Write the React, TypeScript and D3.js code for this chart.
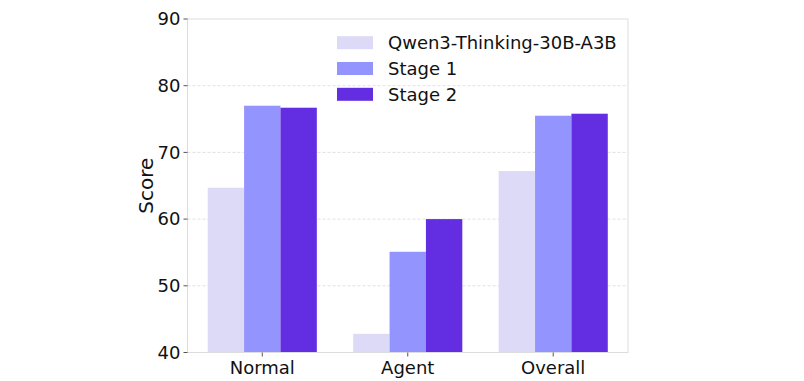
import React from "react";
import * as d3 from "d3";

const categories = ["Normal", "Agent", "Overall"];
const seriesNames = ["Qwen3-Thinking-30B-A3B", "Stage 1", "Stage 2"];
const qwenValues = [64.7, 42.8, 67.2];
const stage1Values = [77.0, 55.1, 75.5];
const stage2Values = [76.7, 60.0, 75.8];
const yTicks = [40, 50, 60, 70, 80, 90];
const colors = ["#dcdaf7", "#9494fe", "#632de2"];

const W = 804, H = 381;
const left = 187.5, right = 628, top = 19, bottom = 352.5;
const font = "DejaVu Sans, sans-serif";

export default function App() {
  const series = [qwenValues, stage1Values, stage2Values];
  const x = d3.scaleLinear().domain([-0.514, 2.514]).range([left, right]);
  const y = d3.scaleLinear().domain([40, 90]).range([bottom, top]);
  const bw = 0.25;
  return (
    <svg width={W} height={H} style={{ position: "absolute", left: 0, top: 0 }}>
      <rect x={0} y={0} width={W} height={H} fill="#fff" />
      {yTicks.slice(1, -1).map((t) => (
        <line key={t} x1={left} x2={right} y1={y(t)} y2={y(t)} stroke="#d9d9d9" strokeWidth={0.8} strokeDasharray="3,2" />
      ))}
      {series.map((vals, si) =>
        vals.map((v, ci) => {
          const cx = ci + (si - 1) * bw;
          const x0 = x(cx - bw / 2);
          const x1 = x(cx + bw / 2);
          return <rect key={`${si}-${ci}`} x={x0} y={y(v)} width={x1 - x0} height={y(40) - y(v)} fill={colors[si]} />;
        })
      )}
      <rect x={left} y={top} width={right - left} height={bottom - top} fill="none" stroke="#dddddd" strokeWidth={1} />
      {yTicks.map((t) => (
        <g key={t}>
          <line x1={left - 4} x2={left} y1={y(t)} y2={y(t)} stroke="#555" strokeWidth={1} />
          <text x={left - 7} y={y(t)} dy="0.35em" textAnchor="end" fontFamily={font} fontSize={18} fill="#111">{t}</text>
        </g>
      ))}
      {categories.map((c, i) => (
        <g key={c}>
          <line x1={x(i)} x2={x(i)} y1={bottom} y2={bottom + 4} stroke="#555" strokeWidth={1} />
          <text x={x(i)} y={bottom + 21} textAnchor="middle" fontFamily={font} fontSize={18} fill="#111">{c}</text>
        </g>
      ))}
      <text transform={`translate(152.5,${(top + bottom) / 2}) rotate(-90)`} textAnchor="middle" fontFamily={font} fontSize={20} fill="#111">Score</text>
      {seriesNames.map((n, i) => (
        <g key={n} transform={`translate(337,${42.7 + i * 25.8})`}>
          <rect x={0} y={-6.5} width={36} height={13} fill={colors[i]} />
          <text x={51} y={0} dy="0.35em" fontFamily={font} fontSize={18} fill="#111">{n}</text>
        </g>
      ))}
    </svg>
  );
}
